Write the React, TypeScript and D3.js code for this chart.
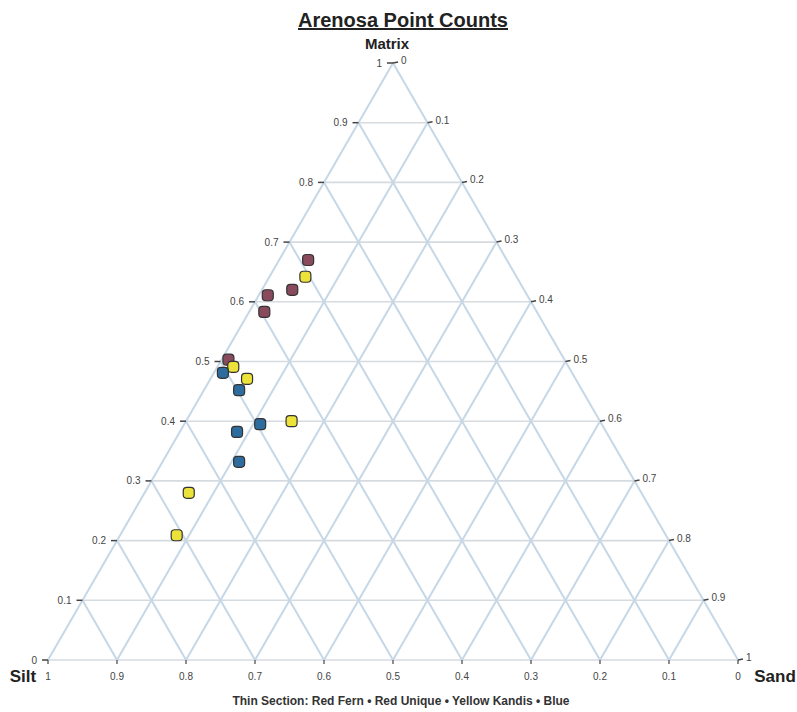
import React from "react";
import * as d3 from "d3";

const titleText = "Arenosa Point Counts";
const axisTitles = { a: "Matrix", b: "Silt", c: "Sand" };
const ticks = [0, 0.1, 0.2, 0.3, 0.4, 0.5, 0.6, 0.7, 0.8, 0.9, 1];
const legendText = "Thin Section: Red Fern \u2022 Red Unique \u2022 Yellow Kandis \u2022 Blue";

// Matrix (a), Sand (c); Silt = 1 - a - c
const redMatrix = [0.67, 0.62, 0.611, 0.583, 0.503];
const redSand = [0.042, 0.044, 0.013, 0.022, 0.01];
const yellowMatrix = [0.642, 0.491, 0.471, 0.4, 0.28, 0.209];
const yellowSand = [0.052, 0.023, 0.053, 0.153, 0.064, 0.082];
const blueMatrix = [0.481, 0.452, 0.395, 0.382, 0.332];
const blueSand = [0.013, 0.051, 0.11, 0.083, 0.111];

const groups = [
  { name: "Red", matrix: redMatrix, sand: redSand, color: "#8a4a5e" },
  { name: "Yellow", matrix: yellowMatrix, sand: yellowSand, color: "#ece23a" },
  { name: "Blue", matrix: blueMatrix, sand: blueSand, color: "#2f6c9e" },
];

export default function App() {
  const W = 797, H = 712;
  const left = 48, right = 738, bottom = 660, top = 63;
  const xs = d3.scaleLinear().domain([0, 1]).range([left, right]);
  const ys = d3.scaleLinear().domain([0, 1]).range([bottom, top]);
  const P = (a: number, c: number) => [xs(c + a / 2), ys(a)] as [number, number];

  const gridBlue = "#c6d7e6";
  const gridGray = "#d6dbe0";
  const inner = ticks.slice(1, -1);

  return (
    <svg width={W} height={H} style={{ position: "absolute", left: 0, top: 0, background: "#fff" }}
      fontFamily="Liberation Sans, Arial, sans-serif">
      <rect width={W} height={H} fill="#fff" />
      {ticks.map((t) => {
        const p1 = P(t, 0), p2 = P(t, 1 - t);
        return <line key={"h" + t} x1={p1[0]} y1={p1[1]} x2={p2[0]} y2={p2[1]} stroke={gridGray} strokeWidth={1.6} />;
      })}
      {inner.map((t) => {
        const p1 = P(0, t), p2 = P(1 - t, t);
        return <line key={"c" + t} x1={p1[0]} y1={p1[1]} x2={p2[0]} y2={p2[1]} stroke={gridBlue} strokeWidth={2} />;
      })}
      {inner.map((t) => {
        const p1 = P(0, 1 - t), p2 = P(1 - t, 0);
        return <line key={"b" + t} x1={p1[0]} y1={p1[1]} x2={p2[0]} y2={p2[1]} stroke={gridBlue} strokeWidth={2} />;
      })}
      {(() => {
        const A = P(1, 0), B = P(0, 0), C = P(0, 1);
        return (
          <g>
            <line x1={B[0]} y1={B[1]} x2={A[0]} y2={A[1]} stroke={gridBlue} strokeWidth={2} />
            <line x1={C[0]} y1={C[1]} x2={A[0]} y2={A[1]} stroke={gridBlue} strokeWidth={2} />
          </g>
        );
      })()}
      {ticks.map((t) => {
        const p = P(t, 0);
        return (
          <g key={"at" + t}>
            <line x1={p[0] - 6} y1={p[1]} x2={p[0]} y2={p[1]} stroke="#444" strokeWidth={1.5} />
            <text x={p[0] - 11} y={p[1] + 3.5} fontSize={10} textAnchor="end" fill="#444">{String(t)}</text>
          </g>
        );
      })}
      {ticks.map((t) => {
        const p = P(1 - t, t);
        return (
          <g key={"ct" + t}>
            <line x1={p[0]} y1={p[1]} x2={p[0] + 5} y2={p[1] - 1} stroke="#444" strokeWidth={1.5} />
            <text x={p[0] + 8} y={p[1] + 1} fontSize={10} textAnchor="start" fill="#444">{String(t)}</text>
          </g>
        );
      })}
      {ticks.map((t) => {
        const p = P(0, 1 - t);
        return (
          <g key={"bt" + t}>
            <line x1={p[0]} y1={p[1]} x2={p[0]} y2={p[1] + 4} stroke="#444" strokeWidth={1.2} />
            <text x={p[0]} y={p[1] + 20} fontSize={10} textAnchor="middle" fill="#444">{String(t)}</text>
          </g>
        );
      })}
      <text x={P(1, 0)[0] - 6} y={top - 14} fontSize={15} fontWeight="bold" textAnchor="middle" fill="#222">{axisTitles.a}</text>
      <text x={23} y={bottom + 22} fontSize={17} fontWeight="bold" textAnchor="middle" fill="#222">{axisTitles.b}</text>
      <text x={775} y={bottom + 22} fontSize={17} fontWeight="bold" textAnchor="middle" fill="#222">{axisTitles.c}</text>
      <text x={403} y={27} fontSize={20} fontWeight="bold" textAnchor="middle" fill="#222" textDecoration="underline">{titleText}</text>
      {groups.map((g) => (
        <g key={g.name}>
          {g.matrix.map((m, i) => {
            const p = P(m, g.sand[i]);
            return <rect key={i} x={p[0] - 5.5} y={p[1] - 5.5} width={11} height={11} rx={3.5}
              fill={g.color} stroke="#333" strokeWidth={1.2} />;
          })}
        </g>
      ))}
      <text x={401} y={705} fontSize={12} fontWeight="bold" textAnchor="middle" fill="#333">{legendText}</text>
    </svg>
  );
}
